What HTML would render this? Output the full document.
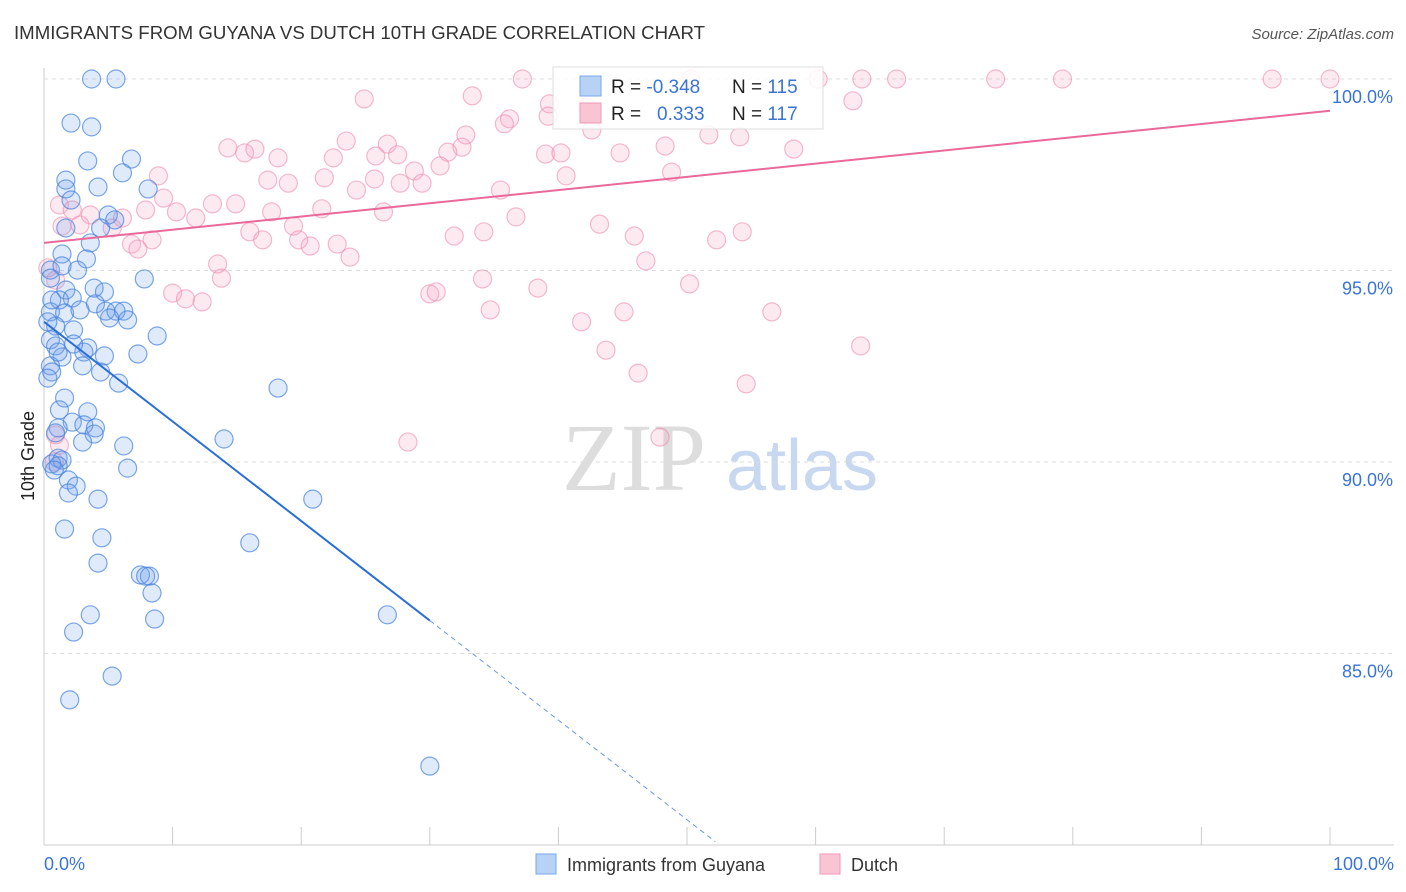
<!DOCTYPE html>
<html><head><meta charset="utf-8">
<style>
body{margin:0;background:#fff;font-family:"Liberation Sans",sans-serif;}
svg{display:block}
</style></head>
<body>
<svg id="chart" width="1406" height="892">
<text x="14" y="39" font-size="18" fill="#333" textLength="691" lengthAdjust="spacingAndGlyphs">IMMIGRANTS FROM GUYANA VS DUTCH 10TH GRADE CORRELATION CHART</text>
<text x="1394" y="39" font-size="15" fill="#555" font-style="italic" text-anchor="end">Source: ZipAtlas.com</text>
<text x="34" y="456" font-size="18" fill="#222" text-anchor="middle" transform="rotate(-90 34 456)">10th Grade</text>
<g>
<text x="634" y="490" font-size="96" fill="#ddd" font-family="Liberation Serif,serif" text-anchor="middle">ZIP</text>
<text x="802" y="490" font-size="72" fill="#c8d8f0" text-anchor="middle">atlas</text>
</g>
<g id="grid"></g>
<g id="pts"></g>
<g id="lines"></g>
<g>
<rect x="553" y="67" width="270" height="62" fill="#fff" fill-opacity="0.85" stroke="#ddd"/>
<rect x="580" y="76" width="21" height="20" fill="#b8d2f5" stroke="#7aa8e8"/>
<rect x="580" y="103" width="21" height="20" fill="#f9c4d4" stroke="#f09ab6"/>
<text x="611" y="93" font-size="19" fill="#222">R = <tspan fill="#3a74d4">-0.348</tspan></text>
<text x="732" y="93" font-size="19" fill="#222">N = <tspan fill="#3a74d4">115</tspan></text>
<text x="611" y="120" font-size="19" fill="#222">R = <tspan fill="#3a74d4" x="657">0.333</tspan></text>
<text x="732" y="120" font-size="19" fill="#222">N = <tspan fill="#3a74d4">117</tspan></text>
</g>
<g>
<rect x="536" y="854" width="20" height="20" fill="#b8d2f5" stroke="#7aa8e8"/>
<text x="567" y="871" font-size="18" fill="#333">Immigrants from Guyana</text>
<rect x="820" y="854" width="20" height="20" fill="#f9c4d4" stroke="#f09ab6"/>
<text x="851" y="871" font-size="18" fill="#333">Dutch</text>
</g>
</svg>
<script>
const xTicks=[0,10,20,30,40,50,60,70,80,90,100];
const yTicks=[100,95,90,85];
const yTickLabels=["100.0%","95.0%","90.0%","85.0%"];
const xEndLabels=["0.0%","100.0%"];
const guyanaX=[3.7,5.6,2.1,3.7,3.4,6.8,6.1,1.7,4.2,1.7,8.1,2.1,5.0,5.5,4.4,1.7,3.6,1.4,3.3,0.5,2.6,1.4,7.8,0.5,1.7,3.9,4.7,2.2,1.2,4.0,0.5,1.6,4.8,5.6,6.2,5.1,6.5,0.9,2.3,8.8,0.5,0.9,3.4,2.3,3.1,4.7,7.3,1.4,0.5,3.0,4.4,0.6,5.8,18.2,1.6,3.4,2.2,1.1,3.1,4.0,3.9,14.0,3.0,6.2,1.1,1.4,0.6,1.1,0.8,6.5,1.9,2.5,1.9,4.2,20.9,1.6,4.5,16.0,4.2,7.5,8.2,7.9,8.4,3.6,8.6,26.7,2.3,5.3,2.0,30.0,0.9,0.3,0.3,0.6,2.8,1.1,1.2];
const guyanaY=[100,100,98.85,98.75,97.86,97.91,97.55,97.36,97.18,97.13,97.13,96.84,96.45,96.32,96.11,96.11,95.72,95.43,95.30,95.01,95.01,95.12,94.78,94.80,94.49,94.54,94.44,94.28,94.23,94.13,93.92,93.89,93.94,93.94,93.94,93.76,93.71,93.55,93.45,93.29,93.19,93.03,92.98,93.08,92.87,92.77,92.82,92.74,92.51,92.51,92.35,92.35,92.06,91.93,91.67,91.31,91.04,90.89,90.97,90.89,90.73,90.60,90.52,90.42,90.10,90.05,89.95,89.90,89.79,89.84,89.53,89.37,89.19,89.03,89.03,88.25,88.02,87.89,87.36,87.05,87.02,87.02,86.58,86.01,85.90,86.01,85.56,84.41,83.79,82.06,90.76,92.19,93.66,94.23,93.97,92.87,91.36];
const dutchX=[37.2,50.3,60.2,63.6,66.3,74.0,79.2,95.5,100,24.9,33.3,62.9,39.3,42.2,36.2,39.2,35.8,42.6,32.8,32.5,51.7,48.3,54.1,14.3,15.6,16.4,23.5,26.7,58.3,18.2,22.5,25.8,27.5,31.4,39.0,40.2,44.8,30.8,28.8,40.6,48.8,8.9,17.4,19.0,21.8,24.3,25.7,27.7,29.4,35.5,9.3,7.9,10.3,14.9,13.1,11.8,17.7,21.6,26.4,36.7,43.2,5.3,6.1,1.2,2.2,3.6,2.8,16.0,19.4,34.2,31.9,45.9,54.3,52.3,6.8,7.3,8.4,17.0,19.8,20.7,22.8,23.8,13.5,46.8,13.8,34.1,38.4,50.2,10.0,11.0,12.3,30.0,30.5,34.7,45.1,41.8,56.6,43.7,63.5,46.2,54.6,28.3,47.9,0.9,1.2,0.8,1.4,0.3,0.9];
const dutchY=[100,100,100,100,100,100,100,100,100,99.48,99.56,99.43,99.35,99.27,98.96,99.03,98.83,98.67,98.54,98.22,98.54,98.25,98.49,98.20,98.07,98.17,98.38,98.30,98.17,97.94,97.94,97.99,98.02,98.09,98.04,98.07,98.07,97.73,97.60,97.47,97.57,97.47,97.36,97.28,97.42,97.10,97.39,97.28,97.28,97.10,96.89,96.58,96.53,96.74,96.74,96.37,96.53,96.61,96.53,96.40,96.21,96.11,96.37,96.71,96.58,96.45,96.19,96.01,96.16,96.01,95.90,95.90,96.01,95.80,95.69,95.56,95.80,95.80,95.80,95.64,95.69,95.35,95.17,95.25,94.80,94.78,94.54,94.65,94.41,94.26,94.18,94.39,94.44,93.97,93.92,93.66,93.92,92.92,93.03,92.32,92.04,90.52,90.65,90.71,90.44,90.00,96.16,95.07,94.75];
const guyanaFit=[93.66,-0.26];
const dutchFit=[95.72,0.0345];
const solidEnd=30, dashEnd=52.2;

const X0=44,X1=1330,Yb=845;
const sx=v=>X0+(X1-X0)*v/100;
const sy=v=>79+(100-v)*38.3;
const NS="http://www.w3.org/2000/svg";
function mk(tag,attrs,parent){const e=document.createElementNS(NS,tag);for(const k in attrs)e.setAttribute(k,attrs[k]);parent.appendChild(e);return e;}
const grid=document.getElementById('grid');
const ax=mk('line',{x1:X0,y1:68,x2:X0,y2:Yb,stroke:'#ccc'},grid);


const bx=mk('line',{x1:X0,y1:Yb,x2:1394,y2:Yb,stroke:'#ccc'},grid);


yTicks.forEach((t,i)=>{
  const g=mk('line',{x1:X0,y1:sy(t),x2:1394,y2:sy(t),stroke:'#ddd','stroke-dasharray':'4 4'},grid);
  
  
  const l=mk('text',{x:1393,y:sy(t)+24,'font-size':18,fill:'#3a74d4','text-anchor':'end'},grid);
  l.textContent=yTickLabels[i];
  
  
});
xTicks.forEach(t=>{
  const k=mk('line',{x1:sx(t),y1:827,x2:sx(t),y2:Yb,stroke:'#ccc'},grid);
  
  
});
[[0,'start',44],[100,'end',1394]].forEach((p,i)=>{
  const l=mk('text',{x:p[2],y:870,'font-size':18,fill:'#3a74d4','text-anchor':p[1]},grid);
  l.textContent=xEndLabels[i];
  
  
});
const pts=document.getElementById('pts');
dutchX.forEach((x,i)=>{
  const c=mk('circle',{cx:sx(x),cy:sy(dutchY[i]),r:9,fill:'rgba(244,160,190,0.22)',stroke:'rgba(236,140,175,0.6)','stroke-width':1.2},pts);
  
  
});
guyanaX.forEach((x,i)=>{
  const c=mk('circle',{cx:sx(x),cy:sy(guyanaY[i]),r:9,fill:'rgba(110,160,235,0.22)',stroke:'rgba(70,130,220,0.7)','stroke-width':1.2},pts);
  
  
});
const lines=document.getElementById('lines');
const f=(fit,x)=>fit[0]+fit[1]*x;
const l1=mk('line',{x1:sx(0),y1:sy(f(guyanaFit,0)),x2:sx(solidEnd),y2:sy(f(guyanaFit,solidEnd)),stroke:'#2a6fd8','stroke-width':2},lines);


const l2=mk('line',{x1:sx(solidEnd),y1:sy(f(guyanaFit,solidEnd)),x2:sx(dashEnd),y2:sy(f(guyanaFit,dashEnd)),stroke:'#6a9ae0','stroke-width':1,'stroke-dasharray':'5 4'},lines);


const l3=mk('line',{x1:sx(0),y1:sy(f(dutchFit,0)),x2:sx(100),y2:sy(f(dutchFit,100)),stroke:'#e8699a','stroke-width':2},lines);


</script>
</body></html>
